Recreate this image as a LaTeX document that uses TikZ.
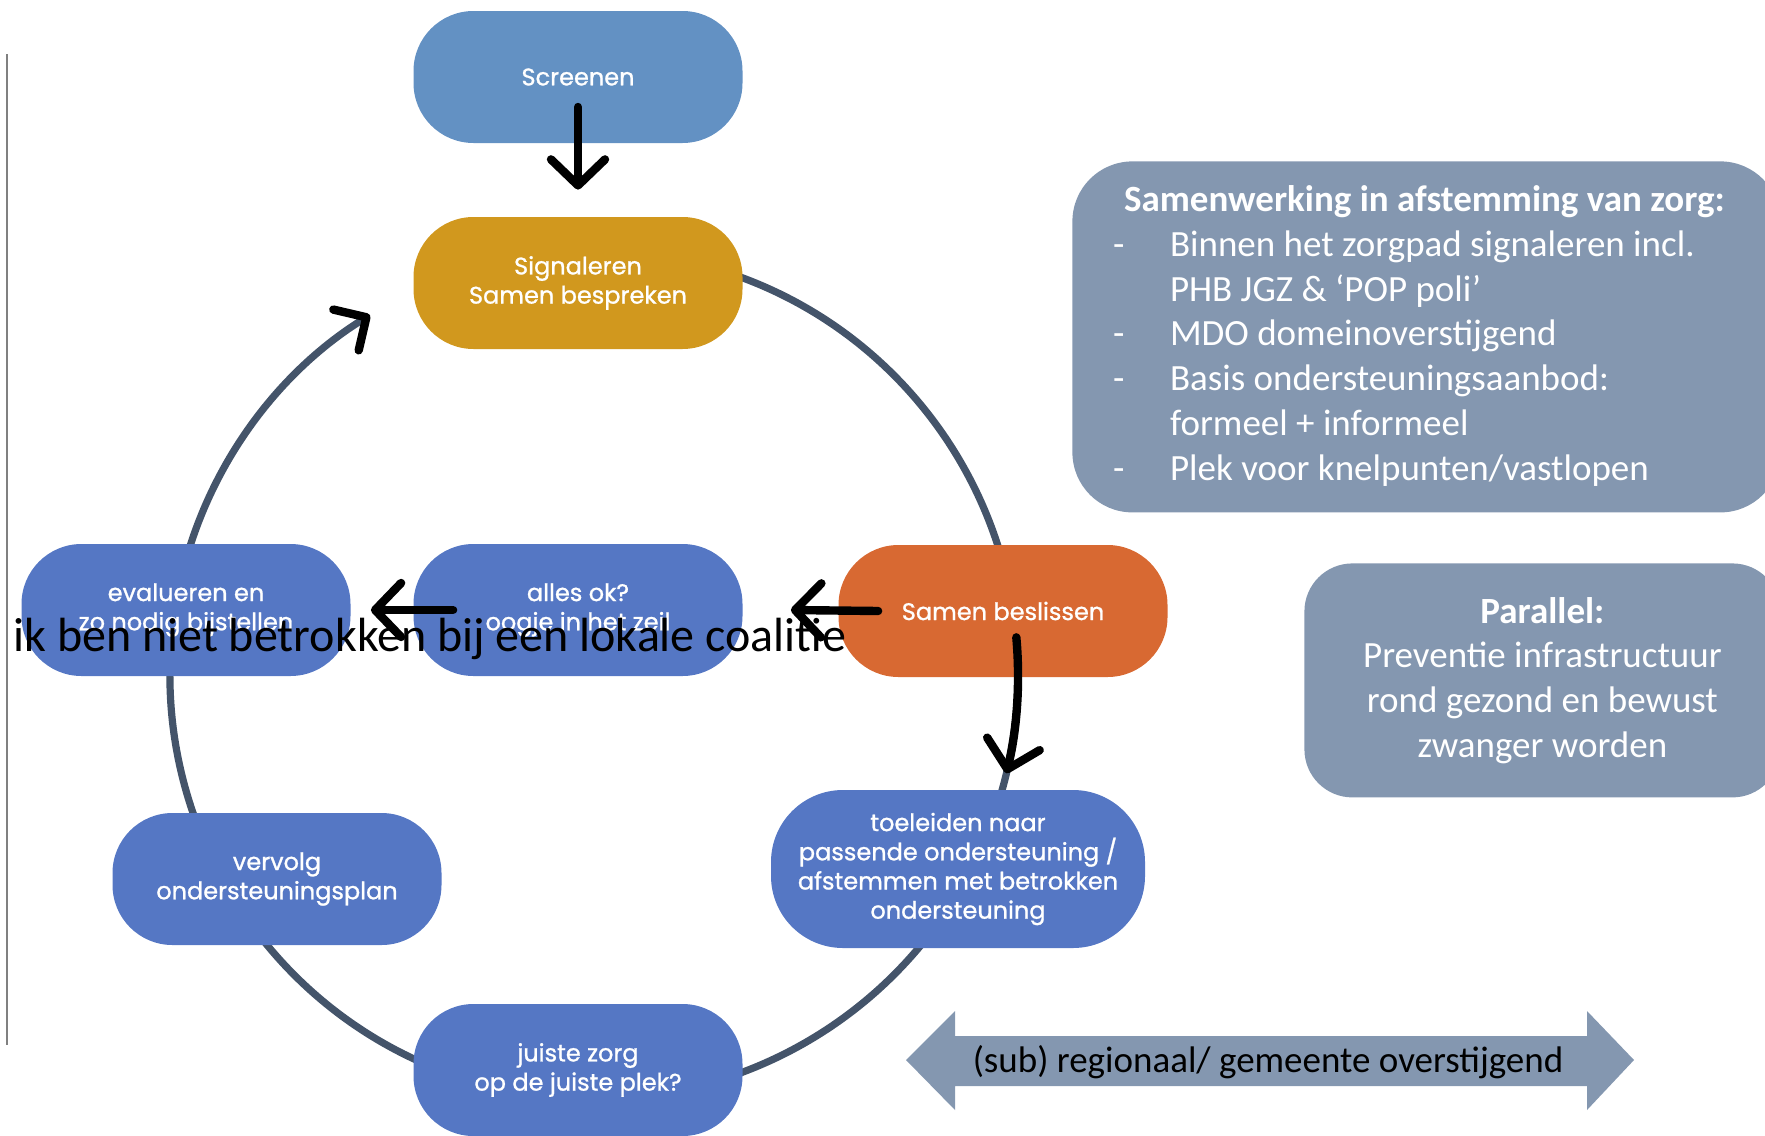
\documentclass[tikz,border=0pt]{standalone}
\usepackage{fontspec}
\setmainfont{Carlito}
\newfontfamily\stapfont{Poppins}[FakeBold=1]
\usetikzlibrary{arrows.meta,calc}

\definecolor{screenblauw}{HTML}{6391C3}
\definecolor{signaalgeel}{HTML}{D1981E}
\definecolor{beslisoranje}{HTML}{D86932}
\definecolor{stapblauw}{HTML}{5577C4}
\definecolor{kringgrijs}{HTML}{44546A}
\definecolor{kaderblauw}{HTML}{8497B0}

\tikzset{
	stap/.style={rectangle, rounded corners=30pt, minimum width=164.5pt, minimum height=66pt,
		inner sep=2pt, align=center, text=white, font=\stapfont\fontsize{12}{14.6}\selectfont},
	kring/.style={draw=kringgrijs, line width=3.6pt},
	pijl/.style={line width=4.2pt, line cap=round, -{Straight Barb[length=13pt, width=27pt, round]}},
	kader/.style={fill=kaderblauw, text=white, font=\fontsize{18.5}{22.4}\selectfont},
}

\begin{document}
\begin{tikzpicture}[x=0.5pt, y=-0.5pt]
	\useasboundingbox (0,0) rectangle (1765,1135);
	
	% the cycle behind the steps
	\coordinate (midden) at (594,675);
	\draw[kring, -{Straight Barb[color=black, line width=4.2pt, length=12pt, width=24pt, round]}]
		($(midden)+(75:212pt)$) arc[start angle=75, end angle=-238.1, radius=212pt];
	
	\draw[gray, line width=0.8pt] (7,54) -- (7,1045);
	
	% steps
	\node[stap, fill=screenblauw] (screen) at (578,77) {Screenen};
	\node[stap, fill=signaalgeel] (signaal) at (578,283) {Signaleren\\Samen bespreken};
	\node[stap, fill=beslisoranje] (beslis) at (1003,611) {Samen beslissen};
	\node[stap, fill=stapblauw] (allesok) at (578,610) {alles ok?\\oogje in het zeil};
	\node[stap, fill=stapblauw] (evalueer) at (186,610) {evalueren en\\zo nodig bijstellen};
	\node[stap, fill=stapblauw] (vervolg) at (277,879) {vervolg\\ondersteuningsplan};
	\node[stap, fill=stapblauw] (juist) at (578,1070) {juiste zorg\\op de juiste plek?};
	\node[stap, fill=stapblauw, minimum width=187pt, minimum height=79pt, rounded corners=36pt]
		(toeleid) at (958,869) {toeleiden naar\\passende ondersteuning /\\afstemmen met betrokken\\ondersteuning};
	
	% arrows
	\draw[pijl] ([yshift=-15pt]screen.center) -- ([yshift=13.5pt]signaal.north);
	\draw[pijl] ([xshift=20pt]beslis.west) -- ([xshift=24pt]allesok.east);
	\draw[pijl] ([xshift=20pt]allesok.west) -- ([xshift=10pt]evalueer.east);
	\draw[pijl] ($(midden)+(5.1:212pt)$) arc[start angle=5.1, end angle=-13.4, radius=212pt];
	
	% boxes on the right
	\node[kader, rounded corners=30pt, minimum width=354pt, minimum height=175.5pt, anchor=north west]
		(afstemming) at (1072,161) {%
		\begin{tabular}{@{}p{28.5pt}@{}l@{}}
			\multicolumn{2}{@{\hspace*{5.5pt}}l@{\hspace*{7.5pt}}}{\bfseries Samenwerking in afstemming van zorg:}\\
			-& Binnen het zorgpad signaleren incl.\\
			& PHB JGZ \& ‘POP poli’\\
			-& MDO domeinoverstijgend\\
			-& Basis ondersteuningsaanbod:\\
			& formeel + informeel\\
			-& Plek voor knelpunten/vastlopen
		\end{tabular}};
	\node[kader, rounded corners=24pt, minimum width=238pt, minimum height=117pt, anchor=north west, align=center]
		(parallel) at (1304,563) {\textbf{Parallel:}\\Preventie infrastructuur\\rond gezond en bewust\\zwanger worden};
	
	% double arrow at the bottom
	\fill[kaderblauw] (906,1060) -- (955,1011) -- (955,1036) -- (1587,1036) -- (1587,1011) -- (1634,1060)
		-- (1587,1110) -- (1587,1086) -- (955,1086) -- (955,1110) -- cycle;
	\node[font=\fontsize{18.5}{22.4}\selectfont] (regio) at (1268,1062) {(sub) regionaal/ gemeente overstijgend};
	
	\node[font=\fontsize{24}{28}\selectfont, anchor=base] (coalitie) at (430,651) {ik ben niet betrokken bij een lokale coalitie};
	
\end{tikzpicture}
\end{document}
